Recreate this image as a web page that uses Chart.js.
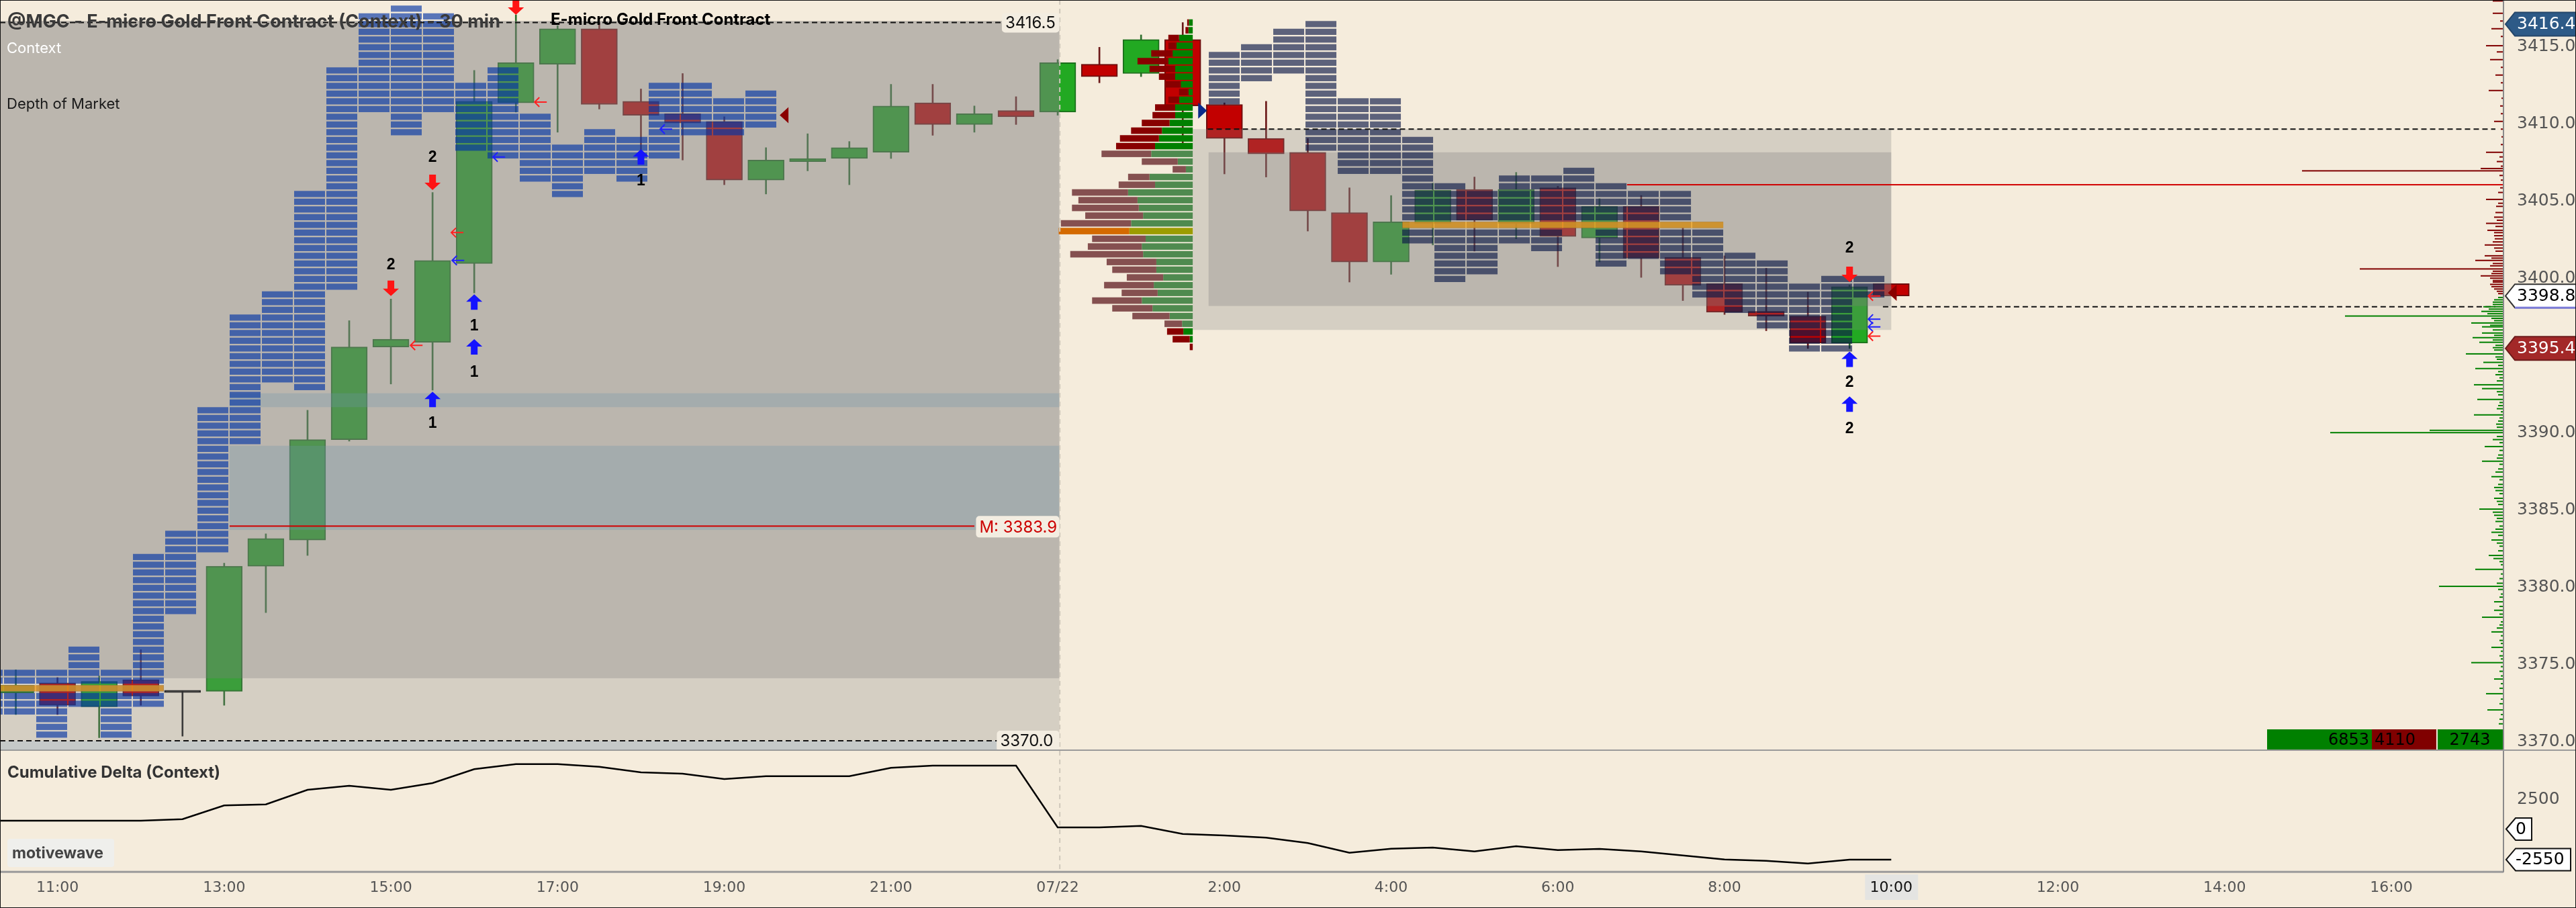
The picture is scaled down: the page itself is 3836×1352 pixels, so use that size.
<!DOCTYPE html>
<html><head><meta charset="utf-8">
<script src="https://cdn.jsdelivr.net/npm/chart.js@4.4.1/dist/chart.umd.min.js"></script>
<style>
html,body{margin:0;padding:0;background:#f5ecdc;overflow:hidden;}
#wrap{position:relative;width:3836px;height:1352px;background:#f5ecdc;}
#c1{position:absolute;left:0;top:0;}
#c2{position:absolute;left:0;top:1118px;}
#frame{position:absolute;left:0;top:0;width:3834px;height:1350px;border:1px solid #111;pointer-events:none;}
</style></head><body>
<div id="wrap">
<canvas id="c1" width="3836" height="1118"></canvas>
<canvas id="c2" width="3836" height="234"></canvas>
<div id="frame"></div>
</div>
<script>
// ---------------- DATA ----------------
const tickLabels = ['11:00','13:00','15:00','17:00','19:00','21:00','07/22','2:00','4:00','6:00','8:00','10:00','12:00','14:00','16:00'];
const tickBars   = [0,4,8,12,16,20,24,28,32,36,40,44,48,52,56];
const priceTicks = [3370,3375,3380,3385,3390,3395,3400,3405,3410,3415];

const bars   = [-1,0,1,2,3,4,5,6,7,8,9,10,11,12,13,14,15,16,17,18,19,20,21,22,23,24,25,26,27,28,29,30,31,32,33,34,35,36,37,38,39,40,41,42,43,44];
const opens  = [3373.1,3373.75,3372.2,3373.95,3373.2,3373.2,3381.3,3383.0,3389.5,3395.5,3395.8,3400.9,3411.3,3413.8,3416.1,3411.4,3410.6,3410.1,3406.3,3407.5,3407.7,3408.1,3411.3,3409.9,3410.8,3410.7,3413.8,3413.2,3415.4,3411.2,3409.0,3408.1,3404.2,3401.0,3403.5,3405.7,3403.5,3405.8,3402.55,3404.6,3401.3,3399.6,3397.8,3397.5,3395.75,3399.6];
const highs  = [3374.6,3374.1,3374.2,3375.9,3373.2,3381.5,3383.4,3391.4,3397.2,3398.6,3405.5,3413.4,3417.0,3416.3,3416.5,3412.2,3413.2,3410.4,3408.4,3409.3,3408.8,3412.5,3412.5,3411.1,3411.7,3414.1,3414.9,3415.7,3416.5,3411.3,3411.4,3409.0,3405.8,3405.3,3406.1,3406.5,3406.8,3405.9,3405.1,3405.3,3403.2,3401.4,3400.6,3399.05,3399.5,3399.6];
const lows   = [3371.7,3371.7,3370.2,3372.3,3370.3,3372.3,3378.3,3382.0,3389.4,3393.1,3392.7,3399.0,3410.7,3409.4,3410.9,3407.8,3407.6,3406.0,3405.4,3406.9,3406.0,3407.7,3409.2,3409.4,3409.9,3410.5,3412.6,3413.0,3408.7,3406.7,3406.5,3403.0,3399.7,3400.2,3402.1,3401.7,3402.5,3400.7,3401.0,3400.0,3398.5,3397.6,3396.55,3395.4,3395.4,3398.8];
const closes = [3373.6,3372.3,3373.85,3372.9,3373.2,3381.3,3383.1,3389.5,3395.5,3396.0,3401.1,3411.4,3413.9,3416.1,3411.2,3410.5,3410.0,3406.3,3407.6,3407.7,3408.4,3411.1,3409.9,3410.6,3410.4,3413.9,3413.0,3415.4,3411.1,3409.0,3408.0,3404.3,3401.0,3403.6,3405.65,3403.7,3405.7,3402.65,3404.6,3401.25,3399.5,3397.75,3397.5,3395.75,3399.4,3398.8];

const deltaBars = [-2,-1,0,1,2,3,4,5,6,7,8,9,10,11,12,13,14,15,16,17,18,19,20,21,22,23,24,25,26,27,28,29,30,31,32,33,34,35,36,37,38,39,40,41,42,43,44];
const deltaVals = [702,702,702,702,702,832,1978,2067,3287,3624,3287,3848,5011,5438,5438,5213,4747,4635,4185,4429,4429,4429,5123,5309,5309,5309,140,140,270,-404,-534,-721,-1170,-1978,-1640,-1545,-1865,-1433,-1752,-1657,-1865,-2200,-2539,-2650,-2876,-2556,-2556];

// Depth of market columns (top / bottom price of the stacked cells)
const domLeftTop = [3374.6,3374.6,3374.6,3376.1,3374.6,3382.1,3383.6,3391.6,3397.6,3399.1,3405.6,3413.6,3417.1,3417.6,3417.1,3412.6,3413.6,3410.6,3408.6,3409.6,3409.1,3412.6,3412.6,3411.6,3412.1];
const domLeftBot = [3371.6,3371.6,3370.1,3372.1,3370.1,3372.1,3378.1,3382.1,3389.1,3393.1,3392.6,3399.1,3410.6,3409.1,3410.6,3408.1,3407.6,3406.1,3405.1,3406.6,3406.1,3407.6,3409.1,3409.1,3409.6];
const domRightTop = [3414.6,3415.1,3416.1,3416.6,3411.6,3411.6,3409.1,3406.1,3405.6,3406.6,3406.6,3407.1,3406.1,3405.6,3405.6,3403.6,3401.6,3401.1,3399.6,3400.1,3400.1];
const domRightBot = [3411.1,3412.6,3413.1,3408.1,3406.6,3406.6,3402.1,3399.6,3400.1,3402.1,3401.6,3403.1,3400.6,3401.1,3400.1,3398.6,3397.6,3396.6,3395.1,3395.1,3398.6];

// Session volume profile
const vpPrice = [3416.5,3416.0,3415.5,3415.0,3414.5,3414.0,3413.5,3413.0,3412.5,3412.0,3411.5,3411.0,3410.5,3410.0,3409.5,3409.0,3408.5,3408.0,3407.5,3407.0,3406.5,3406.0,3405.5,3405.0,3404.5,3404.0,3403.5,3403.0,3402.5,3402.0,3401.5,3401.0,3400.5,3400.0,3399.5,3399.0,3398.5,3398.0,3397.5,3397.0,3396.5,3396.0,3395.5];
const vpSell  = [4,7,25,19,50,72,60,38,37,22,25,47,53,65,72,91,91,116,84,31,50,85,131,138,156,135,164,165,125,126,170,116,103,85,116,84,116,94,87,41,38,40,7];
const vpBuy   = [9,10,32,38,47,57,41,41,28,10,32,41,41,54,72,79,88,97,35,16,101,88,151,129,126,116,144,148,110,119,116,85,85,69,91,82,119,94,54,25,22,7,0];
const vpValueArea = [3408.0, 3397.0];
const vpPoc = 3403.0;

// Context levels
const ctxHighLow   = [[3416.5, 3370.0], [3409.6, 3398.1]];
const ctxValueArea = [[3416.6, 3374.05], [3408.1, 3398.15]];
const ctxBands     = [[3392.5, 3391.6], [3389.1, 3383.65]];
const midLevel = 3383.9;
const redLevel = 3406.0;
const domPocLevels = [3373.4, 3403.4];

// Signals
const sigDown = [[8,3398.8],[9,3405.65],[11,3417.0],[43,3399.7]];
const sigUp   = [[9,3392.6],[10,3398.9],[10,3396.0],[14,3408.3],[43,3395.2],[43,3392.3]];
const sigNum  = [[8,3400.8,'2'],[9,3407.75,'2'],[9,3390.55,'1'],[10,3396.85,'1'],[10,3393.85,'1'],[14,3406.25,'1'],[43,3401.9,'2'],[43,3393.2,'2'],[43,3390.2,'2']];
const sigSmall = [[11.45,3411.35,'r'],[10.45,3407.8,'b'],[9.45,3402.9,'r'],[9.47,3401.1,'b'],[8.47,3395.6,'r'],[14.46,3409.6,'b'],[43.45,3398.8,'r'],[43.45,3397.3,'b'],[43.45,3396.8,'b'],[43.45,3396.2,'r']];

// Volume at price histogram (price, size) along the price axis
const histLevels = [[3417.9,16],[3417.1,16],[3416.6,5],[3416.1,18],[3415.6,4],[3415.0,26],[3414.6,10],[3414.1,20],[3413.6,4],[3413.1,12],[3412.6,4],[3412.1,22],[3411.6,3],[3411.1,5],[3410.6,4],[3410.1,14],[3409.6,4],[3409.1,3],[3408.6,4],[3408.1,26],[3407.8,6],[3407.5,10],[3407.2,4],[3407.05,34],[3406.9,300],[3406.6,6],[3406.3,4],[3405.8,5],[3405.5,8],[3405.05,26],[3404.8,8],[3404.6,11],[3404.2,12],[3403.9,14],[3403.7,10],[3403.5,26],[3403.3,12],[3403.05,24],[3402.9,14],[3402.7,14],[3402.5,13],[3402.3,16],[3402.1,28],[3401.9,14],[3401.7,12],[3401.4,28],[3401.25,18],[3401.1,42],[3400.9,16],[3400.75,20],[3400.55,214],[3400.4,16],[3400.25,18],[3400.1,34],[3399.95,20],[3399.8,16],[3399.7,16],[3399.55,20],[3399.4,18],[3399.25,14],[3399.1,10],[3398.95,8],
[3398.7,8],[3398.55,14],[3398.4,16],[3398.25,16],[3398.1,30],[3397.95,22],[3397.8,33],[3397.65,24],[3397.5,236],[3397.35,18],[3397.2,14],[3397.05,48],[3396.9,20],[3396.8,32],[3396.6,16],[3396.4,32],[3396.25,14],[3396.1,46],[3395.95,16],[3395.8,36],[3395.6,12],[3395.45,16],[3395.3,14],[3395.05,56],[3394.85,12],[3394.7,10],[3394.5,30],[3394.3,8],[3394.1,42],[3393.9,8],[3393.7,12],[3393.5,6],[3393.3,10],[3393.05,44],[3392.8,32],[3392.6,10],[3392.4,8],[3392.1,39],[3391.9,6],[3391.7,8],[3391.5,10],[3391.3,4],[3391.1,44],[3390.9,6],[3390.7,8],[3390.5,11],[3390.3,10],[3390.1,110],[3389.95,258],[3389.7,10],[3389.5,16],[3389.3,6],[3389.05,28],[3388.8,6],[3388.5,8],[3388.3,10],[3388.1,32],[3387.9,6],[3387.6,8],[3387.4,12],[3387.1,18],[3386.9,6],[3386.6,8],[3386.4,14],[3386.2,12],[3386.0,6],[3385.7,14],[3385.5,10],[3385.3,8],[3385.0,36],[3384.8,16],[3384.6,14],[3384.4,10],[3384.2,12],[3383.9,6],[3383.7,12],[3383.5,18],[3383.3,8],[3383.0,18],[3382.8,10],[3382.6,6],[3382.3,8],[3382.0,22],[3381.8,15],[3381.6,6],[3381.4,4],[3381.1,42],[3380.8,4],[3380.5,6],[3380.2,10],[3380.0,96],[3379.8,8],[3379.5,4],[3379.3,6],[3379.0,14],[3378.7,6],[3378.45,14],[3378.2,6],[3378.0,32],[3377.7,4],[3377.5,6],[3377.3,10],[3377.05,18],[3376.8,4],[3376.5,6],[3376.3,4],[3376.05,18],[3375.8,4],[3375.5,6],[3375.3,4],[3375.06,48],[3374.8,4],[3374.5,6],[3374.2,4],[3374.0,14],[3373.7,4],[3373.4,6],[3373.05,26],[3372.7,4],[3372.4,6],[3372.0,24],[3371.7,4],[3371.4,6],[3371.1,7]];
const statValues = ['6853','4110','2743'];
const lastPrice = 3398.8, sessHigh = 3416.4, sessLow = 3395.4, lastDelta = -2550;

// ---------------- LAYOUT CONSTANTS ----------------
const X_MIN = -1.379, X_MAX = 58.69;
const Y_MIN = 3369.35, Y_MAX = 3417.96;
const D_MIN = -3551, D_MAX = 6545;
const AXIS_W = 108;
const BAR_PX = 62.06;
const SESSION_SPLIT = 24.04;
const DOM_L0 = -1.2826 - 0.77345, DOM_R0 = 27.625, DOM_PITCH = 0.77345, DOM_W = 0.7412;
const VP_RIGHT = 27.24, VP_UNIT = 1/(1.568*BAR_PX);

const UP_FILL='#22a922', UP_LINE='#1b6f1b', DN_FILL='#c20000', DN_LINE='#6e0d0d';
const candleFill = bars.map((b,i)=> closes[i]>opens[i]?UP_FILL:(closes[i]<opens[i]?DN_FILL:'#111'));
const candleLine = bars.map((b,i)=> closes[i]>opens[i]?UP_LINE:(closes[i]<opens[i]?DN_LINE:'#111'));
const wickColor  = bars.map((b,i)=> closes[i]>opens[i]?'#2d6e2d':(closes[i]<opens[i]?'#6b1818':'#222'));

function arrowDown(ctx,x,y,c){ctx.fillStyle=c;ctx.beginPath();ctx.moveTo(x-5,y-23);ctx.lineTo(x+5,y-23);ctx.lineTo(x+5,y-11);ctx.lineTo(x+12,y-11);ctx.lineTo(x,y);ctx.lineTo(x-12,y-11);ctx.lineTo(x-5,y-11);ctx.closePath();ctx.fill();}
function arrowUp(ctx,x,y,c){ctx.fillStyle=c;ctx.beginPath();ctx.moveTo(x-5,y+23);ctx.lineTo(x+5,y+23);ctx.lineTo(x+5,y+11);ctx.lineTo(x+12,y+11);ctx.lineTo(x,y);ctx.lineTo(x-12,y+11);ctx.lineTo(x-5,y+11);ctx.closePath();ctx.fill();}
function smallArrow(ctx,x,y,c){ctx.strokeStyle=c;ctx.lineWidth=2;ctx.beginPath();ctx.moveTo(x,y);ctx.lineTo(x+18,y);ctx.moveTo(x+7,y-7);ctx.lineTo(x,y);ctx.lineTo(x+7,y+7);ctx.stroke();}
function flag(ctx,xTip,y,w,h,fill,stroke,txt,tc,font,tx){
  ctx.beginPath();ctx.moveTo(xTip,y);ctx.lineTo(xTip+14,y-h/2);ctx.lineTo(xTip+w,y-h/2);ctx.lineTo(xTip+w,y+h/2);ctx.lineTo(xTip+14,y+h/2);ctx.closePath();
  ctx.fillStyle=fill;ctx.fill();if(stroke){ctx.strokeStyle=stroke;ctx.lineWidth=2;ctx.stroke();}
  ctx.fillStyle=tc;ctx.font=font;ctx.textAlign='left';ctx.textBaseline='middle';ctx.fillText(txt,tx,y+1);
}
function dashH(ctx,x0,x1,y,col){ctx.save();ctx.strokeStyle=col;ctx.lineWidth=2;ctx.setLineDash([8,5]);ctx.beginPath();ctx.moveTo(x0,y);ctx.lineTo(x1,y);ctx.stroke();ctx.restore();}
function labelBox(ctx,x0,y0,w,h,txt,col,font){ctx.fillStyle='#f3ede1';ctx.beginPath();ctx.roundRect(x0,y0,w,h,5);ctx.fill();ctx.fillStyle=col;ctx.font=font;ctx.textAlign='left';ctx.textBaseline='middle';ctx.fillText(txt,x0+5,y0+h/2+1);}

const mainOverlay = {
  id:'mainOverlay',
  afterDatasetsDraw(chart){
    const ctx=chart.ctx, xs=chart.scales.x, ys=chart.scales.y, ca=chart.chartArea;
    const X=v=>xs.getPixelForValue(v), Y=v=>ys.getPixelForValue(v);
    const rectV=(x0,x1,p0,p1,c)=>{ctx.fillStyle=c;const a=X(x0),b=X(x1),t=Y(p0),u=Y(p1);ctx.fillRect(a,Math.min(t,u),b-a,Math.abs(u-t));};
    ctx.save();ctx.beginPath();ctx.rect(ca.left,ca.top,ca.right-ca.left,ca.bottom-ca.top);ctx.clip();
    // context boxes
    const grey='rgba(128,128,128,0.27)', grey2='rgba(128,128,128,0.315)';
    rectV(X_MIN, SESSION_SPLIT, ctxValueArea[0][0], ctxHighLow[0][1], grey);
    rectV(X_MIN, SESSION_SPLIT, ctxValueArea[0][0], ctxValueArea[0][1], grey2);
    rectV(X_MIN, 22.54, ctxHighLow[0][1], Y_MIN, 'rgba(140,160,175,0.45)');
    rectV(VP_RIGHT, 44.0, ctxHighLow[1][0], 3396.6, grey);
    rectV(27.62, 44.0, ctxValueArea[1][0], ctxValueArea[1][1], grey2);
    ctxBands.forEach(b=>rectV(4.13, SESSION_SPLIT, b[0], b[1], 'rgba(110,150,170,0.3)'));
    // DOM
    const cell=(x0,top,bot,col)=>{for(let t=top;t-0.4>=bot-0.15;t-=0.5){rectV(x0,x0+DOM_W,t,t-0.4,col);}};
    domLeftTop.forEach((t,k)=>cell(DOM_L0+k*DOM_PITCH,t,domLeftBot[k],'rgba(0,50,165,0.64)'));
    domRightTop.forEach((t,j)=>cell(DOM_R0+j*DOM_PITCH,t,domRightBot[j],'rgba(10,25,70,0.65)'));
    // DOM POC bands
    rectV(X_MIN, 2.55, domPocLevels[0]+0.2, domPocLevels[0]-0.2, 'rgba(245,160,20,0.75)');
    rectV(32.27, 39.97, domPocLevels[1]+0.2, domPocLevels[1]-0.2, 'rgba(250,170,30,0.75)');
    // volume profile
    vpPrice.forEach((p,i)=>{
      const inVA = p<=vpValueArea[0] && p>=vpValueArea[1], poc = p===vpPoc;
      const sc = poc?'#d46a00':(inVA?'#855050':'#880000'), bc = poc?'#9c9c00':(inVA?'#4f8a4f':'#008000');
      const xb = VP_RIGHT - vpBuy[i]*VP_UNIT, xs0 = xb - vpSell[i]*VP_UNIT;
      rectV(xb, VP_RIGHT, p+0.21, p-0.21, bc);
      rectV(xs0, xb, p+0.21, p-0.21, sc);
    });
    // separator
    ctx.save();ctx.strokeStyle='#cfc8bb';ctx.lineWidth=2;ctx.setLineDash([7,6]);ctx.beginPath();ctx.moveTo(X(24.05),0);ctx.lineTo(X(24.05),ca.bottom);ctx.stroke();ctx.restore();
    // dashed levels
    dashH(ctx, X(X_MIN), X(22.66), Y(ctxHighLow[0][0]), '#111');
    dashH(ctx, X(X_MIN), X(22.54), Y(ctxHighLow[0][1]), '#111');
    dashH(ctx, X(27.6), ca.right-12, Y(ctxHighLow[1][0]), '#111');
    dashH(ctx, X(43.8), ca.right-12, Y(ctxHighLow[1][1]), '#111');
    // red levels
    ctx.fillStyle='#d00000';
    ctx.fillRect(X(4.13), Y(midLevel)-1, X(22.0)-X(4.13), 2);
    ctx.fillRect(X(37.66), Y(redLevel)-1, ca.right-X(37.66), 2);
    // histogram at axis
    histLevels.forEach(h=>{const p=h[0],v=h[1];ctx.fillStyle=p>lastPrice?'#800000':'#008000';const x1=X(X_MAX),x0=X(X_MAX-v/BAR_PX);ctx.fillRect(x0,Y(p)-1,x1-x0,2);});
    // signals
    sigDown.forEach(s=>arrowDown(ctx,X(s[0]),Y(s[1]),'#ff1414'));
    sigUp.forEach(s=>arrowUp(ctx,X(s[0]),Y(s[1]),'#1414ff'));
    ctx.fillStyle='#000';ctx.font='bold 23px "Liberation Sans"';ctx.textAlign='center';ctx.textBaseline='middle';
    sigNum.forEach(s=>ctx.fillText(s[2],X(s[0]),Y(s[1])));
    sigSmall.forEach(s=>smallArrow(ctx,X(s[0]),Y(s[1]),s[2]==='r'?'#ff2020':'#2020ff'));
    // triangles
    ctx.fillStyle='#8a0000';
    [[17.33,3410.5],[43.92,3399.0]].forEach(t=>{const x=X(t[0]),y=Y(t[1]);ctx.beginPath();ctx.moveTo(x,y);ctx.lineTo(x+13,y-12);ctx.lineTo(x+13,y+12);ctx.closePath();ctx.fill();});
    ctx.fillStyle='#0a2a8a';
    {const x=X(27.58),y=Y(3410.8);ctx.beginPath();ctx.moveTo(x,y);ctx.lineTo(x-13,y-12);ctx.lineTo(x-13,y+12);ctx.closePath();ctx.fill();}
    // stats boxes
    const sb=ca.bottom-1, sh=31;
    ctx.fillStyle='#008000';ctx.fillRect(ca.right-352,sb-sh,156,sh);
    ctx.fillStyle='#800000';ctx.fillRect(ca.right-196,sb-sh,96,sh);
    ctx.fillStyle='#008000';ctx.fillRect(ca.right-98,sb-sh,98,sh);
    ctx.fillStyle='#000';ctx.font='24px "DejaVu Sans"';ctx.textBaseline='middle';
    ctx.textAlign='right';ctx.fillText(statValues[0],ca.right-200,sb-sh/2+1);
    ctx.textAlign='left';ctx.fillText(statValues[1],ca.right-192,sb-sh/2+1);
    ctx.textAlign='center';ctx.fillText(statValues[2],ca.right-50,sb-sh/2+1);
    // labels on context levels
    labelBox(ctx, X(22.66), Y(ctxHighLow[0][0])-14, X(24.04)-X(22.66), 29, '3416.5', '#111', '24px Inter');
    labelBox(ctx, X(22.54), Y(ctxHighLow[0][1])-15, X(24.04)-X(22.54), 30, '3370.0', '#111', '24px Inter');
    labelBox(ctx, X(22.04), Y(midLevel)-15, X(24.04)-X(22.04), 32, 'M: 3383.9', '#cc0000', '24px Inter');
    ctx.restore();

    // titles
    ctx.textAlign='left';ctx.textBaseline='middle';
    ctx.fillStyle='#3a3a3a';ctx.font='bold 27px Inter';ctx.fillText('@MGC - E-micro Gold Front Contract (Context) - 30 min',11,33);
    ctx.fillStyle='#000';ctx.font='bold 24px Inter';ctx.fillText('E-micro Gold Front Contract',820,30);
    ctx.fillStyle='#fff';ctx.font='22px Inter';ctx.fillText('Context',10,72);
    ctx.fillStyle='#1a1a1a';ctx.fillText('Depth of Market',10,155);

    // axis
    ctx.fillStyle='#8a8a8a';ctx.fillRect(ca.right-1,0,2,ca.bottom);
    ctx.fillStyle='#9a9a9a';ctx.fillRect(0,ca.bottom-2,chart.width,2);
    ctx.fillStyle='#555';ctx.font='25px "DejaVu Sans"';ctx.textAlign='left';ctx.textBaseline='middle';
    priceTicks.forEach(p=>ctx.fillText(p.toFixed(1),ca.right+20,Y(p)+1));
    flag(ctx,ca.right+3,Y(sessHigh),108,35,'#2d5a87','#24466a',sessHigh.toFixed(1),'#fff','25px "DejaVu Sans"',ca.right+20);
    flag(ctx,ca.right+3,Y(lastPrice),108,35,'#ffffff','#333',lastPrice.toFixed(1),'#000','25px "DejaVu Sans"',ca.right+20);
    ctx.fillStyle='#7b7bd8';ctx.fillRect(ca.right+17,Y(lastPrice)+16,91,3);
    flag(ctx,ca.right+3,Y(sessLow),108,35,'#a32828','#6d1b1b',sessLow.toFixed(1),'#fff','25px "DejaVu Sans"',ca.right+20);
  }
};

new Chart(document.getElementById('c1'),{
  type:'bar',
  data:{datasets:[
    {label:'wick',data:bars.map((b,i)=>({x:b,y:[lows[i],highs[i]]})),backgroundColor:wickColor,barThickness:2,grouped:false,order:2,borderWidth:0},
    {label:'body',data:bars.map((b,i)=>({x:b,y:opens[i]===closes[i]?[opens[i]-0.07,opens[i]+0.07]:[opens[i],closes[i]]})),backgroundColor:candleFill,borderColor:candleLine,borderWidth:2,borderSkipped:false,barThickness:54,grouped:false,order:1}
  ]},
  options:{responsive:false,animation:false,devicePixelRatio:1,events:[],
    layout:{padding:{left:0,right:AXIS_W,top:0,bottom:0}},
    plugins:{legend:{display:false},tooltip:{enabled:false}},
    scales:{x:{type:'linear',min:X_MIN,max:X_MAX,display:false,offset:false},
            y:{type:'linear',min:Y_MIN,max:Y_MAX,display:false}}},
  plugins:[mainOverlay]
});

const deltaOverlay = {
  id:'deltaOverlay',
  afterDatasetsDraw(chart){
    const ctx=chart.ctx, xs=chart.scales.x, ys=chart.scales.y, ca=chart.chartArea;
    const X=v=>xs.getPixelForValue(v), Y=v=>ys.getPixelForValue(v);
    ctx.save();
    ctx.strokeStyle='#cfc8bb';ctx.lineWidth=2;ctx.setLineDash([7,6]);ctx.beginPath();ctx.moveTo(X(24.05),0);ctx.lineTo(X(24.05),ca.bottom);ctx.stroke();ctx.setLineDash([]);
    ctx.fillStyle='#9a9a9a';ctx.fillRect(0,ca.bottom-1,ca.right,3);
    ctx.fillStyle='#8a8a8a';ctx.fillRect(ca.right-1,0,2,ca.bottom+1);
    ctx.textAlign='left';ctx.textBaseline='middle';
    ctx.fillStyle='#333';ctx.font='bold 24px Inter';ctx.fillText('Cumulative Delta (Context)',11,33);
    ctx.fillStyle='#efefec';ctx.beginPath();ctx.roundRect(11,131,159,42,4);ctx.fill();
    ctx.fillStyle='#444';ctx.font='bold 23px Inter';ctx.fillText('motivewave',18,153);
    // time labels
    const ly=204;
    tickBars.forEach((b,i)=>{
      const x=X(b);
      if(tickLabels[i]==='10:00'){ctx.fillStyle='#e4e4e2';ctx.fillRect(x-39,184,79,38);ctx.fillStyle='#111';}
      else ctx.fillStyle='#555';
      ctx.font='22px "DejaVu Sans"';ctx.textAlign='center';ctx.fillText(tickLabels[i],x,ly);
    });
    ctx.textAlign='left';ctx.fillStyle='#555';ctx.font='25px "DejaVu Sans"';ctx.fillText('2500',ca.right+20,Y(2500)+1);
    flag(ctx,ca.right+4,Y(0),38,33,'#fff','#111','0','#000','25px "DejaVu Sans"',ca.right+18);
    flag(ctx,ca.right+4,Y(lastDelta),96,33,'#fff','#111',String(lastDelta),'#000','25px "DejaVu Sans"',ca.right+18);
    ctx.restore();
  }
};

new Chart(document.getElementById('c2'),{
  type:'line',
  data:{datasets:[{label:'Cumulative Delta',data:deltaBars.map((b,i)=>({x:b,y:deltaVals[i]})),borderColor:'#000',borderWidth:2.5,pointRadius:0,tension:0,fill:false}]},
  options:{responsive:false,animation:false,devicePixelRatio:1,events:[],
    layout:{padding:{left:0,right:AXIS_W,top:0,bottom:54.3}},
    plugins:{legend:{display:false},tooltip:{enabled:false}},
    scales:{x:{type:'linear',min:X_MIN,max:X_MAX,display:false},
            y:{type:'linear',min:D_MIN,max:D_MAX,display:false}}},
  plugins:[deltaOverlay]
});
</script>
</body></html>
